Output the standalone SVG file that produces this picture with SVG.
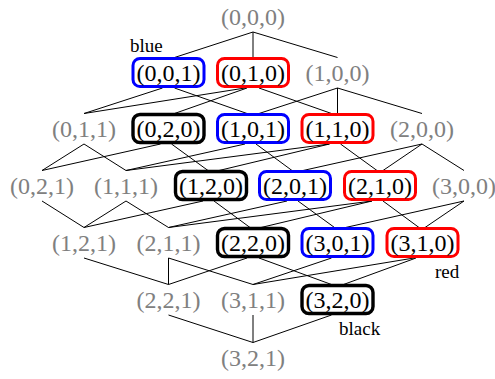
<svg xmlns="http://www.w3.org/2000/svg" width="495" height="379" viewBox="0 0 495 379">
  <style>
    text { font-family: "Liberation Serif", "Times New Roman", serif; }
    .t { font-size: 24px; text-anchor: middle; }
    .g { fill: #808080; }
    .k { fill: #000000; }
    .lbl { font-size: 19px; fill: #000000; }
    .box { fill: #ffffff; stroke-width: 3; }
    .blue { stroke: #0000ff; }
    .red { stroke: #ff0000; }
    .black { stroke: #000000; stroke-width: 3.4; }
    #edges line { stroke: #000000; stroke-width: 1; }
  </style>
  <rect width="495" height="379" fill="#ffffff"/>

  <!-- covering relations of the lattice -->
  <g id="edges">
    <!-- rank 0 -> 1 -->
    <line x1="253" y1="32" x2="174.5" y2="57.5"/>
    <line x1="253" y1="32" x2="253" y2="57.5"/>
    <line x1="253" y1="32" x2="337.5" y2="57.5"/>
    <!-- rank 1 -> 2 -->
    <line x1="162.5" y1="88" x2="84" y2="113.5"/>
    <line x1="174.5" y1="88" x2="247" y2="113.5"/>
    <line x1="245" y1="88" x2="84" y2="113.5"/>
    <line x1="247" y1="88" x2="174.5" y2="113.5"/>
    <line x1="259" y1="88" x2="331.5" y2="113.5"/>
    <line x1="337.5" y1="88" x2="259" y2="113.5"/>
    <line x1="337.5" y1="88" x2="337.5" y2="113.5"/>
    <line x1="337.5" y1="88" x2="422" y2="113.5"/>
    <!-- rank 2 -> 3 -->
    <line x1="84" y1="144" x2="42" y2="170.5"/>
    <line x1="84" y1="144" x2="126" y2="170.5"/>
    <line x1="160.5" y1="144" x2="42" y2="170.5"/>
    <line x1="171.5" y1="144" x2="208" y2="170.5"/>
    <line x1="245" y1="144" x2="126" y2="170.5"/>
    <line x1="256" y1="144" x2="292" y2="170.5"/>
    <line x1="329.5" y1="144" x2="126" y2="170.5"/>
    <line x1="329.5" y1="144" x2="219" y2="170.5"/>
    <line x1="340.5" y1="144" x2="377" y2="170.5"/>
    <line x1="422" y1="144" x2="303" y2="170.5"/>
    <line x1="422" y1="144" x2="383" y2="170.5"/>
    <line x1="422" y1="144" x2="464" y2="170.5"/>
    <!-- rank 3 -> 4 -->
    <line x1="42" y1="201" x2="84" y2="227.5"/>
    <line x1="126" y1="201" x2="84" y2="227.5"/>
    <line x1="126" y1="201" x2="168.5" y2="227.5"/>
    <line x1="203" y1="201" x2="84" y2="227.5"/>
    <line x1="214" y1="201" x2="250" y2="227.5"/>
    <line x1="287" y1="201" x2="168.5" y2="227.5"/>
    <line x1="298" y1="201" x2="334.5" y2="227.5"/>
    <line x1="372" y1="201" x2="168.5" y2="227.5"/>
    <line x1="372" y1="201" x2="261" y2="227.5"/>
    <line x1="383" y1="201" x2="419" y2="227.5"/>
    <line x1="464" y1="201" x2="345.5" y2="227.5"/>
    <line x1="464" y1="201" x2="425" y2="227.5"/>
    <!-- rank 4 -> 5 -->
    <line x1="84" y1="258" x2="168.5" y2="284.5"/>
    <line x1="168.5" y1="258" x2="168.5" y2="284.5"/>
    <line x1="168.5" y1="258" x2="253" y2="284.5"/>
    <line x1="247" y1="258" x2="168.5" y2="284.5"/>
    <line x1="259" y1="258" x2="331.5" y2="284.5"/>
    <line x1="331.5" y1="258" x2="253" y2="284.5"/>
    <line x1="414" y1="258" x2="253" y2="284.5"/>
    <line x1="416" y1="258" x2="343.5" y2="284.5"/>
    <!-- rank 5 -> 6 -->
    <line x1="168.5" y1="315" x2="253" y2="342.5"/>
    <line x1="253" y1="315" x2="253" y2="342.5"/>
    <line x1="331.5" y1="315" x2="253" y2="342.5"/>
  </g>

  <!-- rank 0 -->
  <g id="n000"><text class="t g" x="253" y="25">(0,0,0)</text></g>
  <!-- rank 1 -->
  <g id="n001"><rect class="box blue" x="133" y="58.5" width="71" height="28" rx="7"/><text class="t k" x="168.5" y="81">(0,0,1)</text></g>
  <g id="n010"><rect class="box red" x="217.5" y="58.5" width="71" height="28" rx="7"/><text class="t k" x="253" y="81">(0,1,0)</text></g>
  <g id="n100"><text class="t g" x="337.5" y="81">(1,0,0)</text></g>
  <!-- rank 2 -->
  <g id="n011"><text class="t g" x="84" y="137">(0,1,1)</text></g>
  <g id="n020"><rect class="box black" x="133" y="114.5" width="71" height="28" rx="7"/><text class="t k" x="168.5" y="137">(0,2,0)</text></g>
  <g id="n101"><rect class="box blue" x="217.5" y="114.5" width="71" height="28" rx="7"/><text class="t k" x="253" y="137">(1,0,1)</text></g>
  <g id="n110"><rect class="box red" x="302" y="114.5" width="71" height="28" rx="7"/><text class="t k" x="337.5" y="137">(1,1,0)</text></g>
  <g id="n200"><text class="t g" x="422" y="137">(2,0,0)</text></g>
  <!-- rank 3 -->
  <g id="n021"><text class="t g" x="42" y="194">(0,2,1)</text></g>
  <g id="n111"><text class="t g" x="126" y="194">(1,1,1)</text></g>
  <g id="n120"><rect class="box black" x="175.5" y="171.5" width="71" height="28" rx="7"/><text class="t k" x="211" y="194">(1,2,0)</text></g>
  <g id="n201"><rect class="box blue" x="259.5" y="171.5" width="71" height="28" rx="7"/><text class="t k" x="295" y="194">(2,0,1)</text></g>
  <g id="n210"><rect class="box red" x="344.5" y="171.5" width="71" height="28" rx="7"/><text class="t k" x="380" y="194">(2,1,0)</text></g>
  <g id="n300"><text class="t g" x="464" y="194">(3,0,0)</text></g>
  <!-- rank 4 -->
  <g id="n121"><text class="t g" x="84" y="251">(1,2,1)</text></g>
  <g id="n211"><text class="t g" x="168.5" y="251">(2,1,1)</text></g>
  <g id="n220"><rect class="box black" x="217.5" y="228.5" width="71" height="28" rx="7"/><text class="t k" x="253" y="251">(2,2,0)</text></g>
  <g id="n301"><rect class="box blue" x="302" y="228.5" width="71" height="28" rx="7"/><text class="t k" x="337.5" y="251">(3,0,1)</text></g>
  <g id="n310"><rect class="box red" x="387" y="228.5" width="71" height="28" rx="7"/><text class="t k" x="422.5" y="251">(3,1,0)</text></g>
  <!-- rank 5 -->
  <g id="n221"><text class="t g" x="168.5" y="308">(2,2,1)</text></g>
  <g id="n311"><text class="t g" x="253" y="308">(3,1,1)</text></g>
  <g id="n320"><rect class="box black" x="302" y="285.5" width="71" height="28" rx="7"/><text class="t k" x="337.5" y="308">(3,2,0)</text></g>
  <!-- rank 6 -->
  <g id="n321"><text class="t g" x="253" y="366">(3,2,1)</text></g>

  <!-- colour legends -->
  <g id="legend">
    <text class="lbl" x="130" y="52">blue</text>
    <text class="lbl" x="435" y="278">red</text>
    <text class="lbl" x="339" y="335">black</text>
  </g>
</svg>
